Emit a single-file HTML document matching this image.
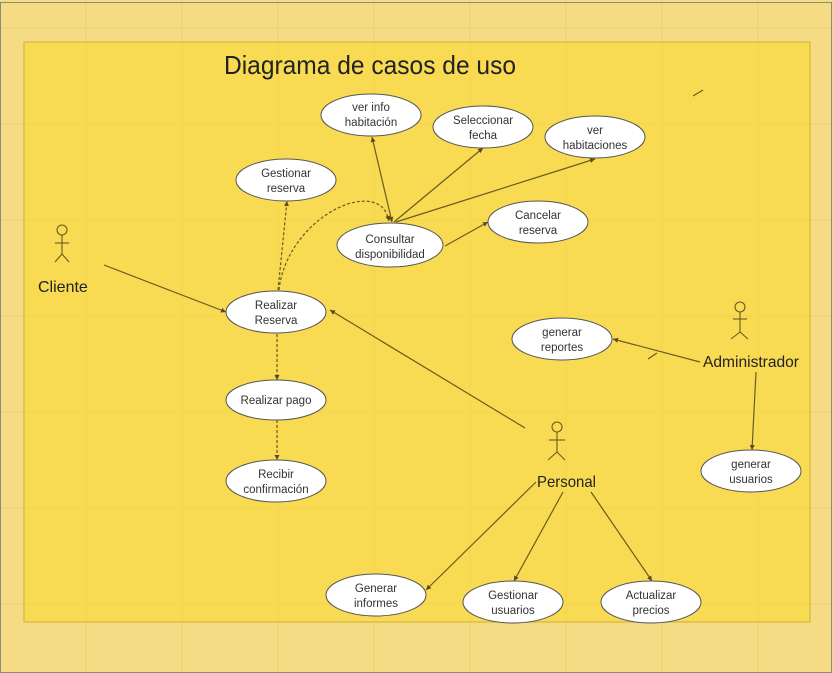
<!DOCTYPE html>
<html><head><meta charset="utf-8"><style>
html,body{margin:0;padding:0;width:833px;height:673px;overflow:hidden;background:#f5dc84}
svg{display:block}
text{font-family:"Liberation Sans",sans-serif;fill:#222}
.u{font-size:11.5px;text-anchor:middle;fill:#333}
</style></head><body>
<svg width="833" height="673" viewBox="0 0 833 673" xmlns="http://www.w3.org/2000/svg">
<defs>
<marker id="a" markerWidth="6" markerHeight="6" refX="5" refY="3" orient="auto" markerUnits="userSpaceOnUse"><path d="M0,0.5 L5,3 L0,5.5z" fill="#5a4a1a"/></marker>
<marker id="s" markerWidth="6" markerHeight="6" refX="1" refY="3" orient="auto" markerUnits="userSpaceOnUse"><path d="M6,0.5 L1,3 L6,5.5z" fill="#5a4a1a"/></marker>
</defs>
<rect x="0" y="0" width="833" height="673" fill="#f5dc84"/>
<g stroke="#ecd279" stroke-width="1">
<line x1="86" y1="0" x2="86" y2="673"/><line x1="182" y1="0" x2="182" y2="673"/><line x1="278" y1="0" x2="278" y2="673"/><line x1="374" y1="0" x2="374" y2="673"/><line x1="470" y1="0" x2="470" y2="673"/><line x1="566" y1="0" x2="566" y2="673"/><line x1="662" y1="0" x2="662" y2="673"/><line x1="758" y1="0" x2="758" y2="673"/>
<line x1="0" y1="28" x2="833" y2="28"/><line x1="0" y1="124" x2="833" y2="124"/><line x1="0" y1="220" x2="833" y2="220"/><line x1="0" y1="316" x2="833" y2="316"/><line x1="0" y1="412" x2="833" y2="412"/><line x1="0" y1="508" x2="833" y2="508"/><line x1="0" y1="604" x2="833" y2="604"/>
</g>
<rect x="0.5" y="2.5" width="831" height="670" fill="none" stroke="#8a8a7a" stroke-width="1"/>
<rect x="24" y="42" width="786" height="580" fill="#f8db52" stroke="#d4b640" stroke-width="1.2"/>
<g stroke="#f1d24e" stroke-width="1" opacity="0.5">
<line x1="86" y1="43" x2="86" y2="621"/><line x1="182" y1="43" x2="182" y2="621"/><line x1="278" y1="43" x2="278" y2="621"/><line x1="374" y1="43" x2="374" y2="621"/><line x1="470" y1="43" x2="470" y2="621"/><line x1="566" y1="43" x2="566" y2="621"/><line x1="662" y1="43" x2="662" y2="621"/><line x1="758" y1="43" x2="758" y2="621"/>
<line x1="25" y1="124" x2="809" y2="124"/><line x1="25" y1="220" x2="809" y2="220"/><line x1="25" y1="316" x2="809" y2="316"/><line x1="25" y1="412" x2="809" y2="412"/><line x1="25" y1="508" x2="809" y2="508"/><line x1="25" y1="604" x2="809" y2="604"/>
</g>
<text x="224" y="74" font-size="26" textLength="292" lengthAdjust="spacingAndGlyphs" fill="#222">Diagrama de casos de uso</text>

<g stroke="#6b5a20" stroke-width="1.2" fill="none">
<line x1="104" y1="265" x2="226" y2="312" marker-end="url(#a)"/>
<line x1="525" y1="428" x2="330" y2="310" marker-end="url(#a)"/>
<line x1="278" y1="290" x2="287" y2="201" stroke-dasharray="3,2" marker-end="url(#a)"/>
<path d="M279,290 C285,235 340,195 372,202 C384,205 387,213 389,221" stroke-dasharray="3,2" marker-end="url(#a)"/>
<line x1="277" y1="334" x2="277" y2="380" stroke-dasharray="3,2" marker-end="url(#a)"/>
<line x1="277" y1="420" x2="277" y2="460" stroke-dasharray="3,2" marker-end="url(#a)"/>
<line x1="392" y1="222" x2="372" y2="137" marker-start="url(#s)" marker-end="url(#a)"/>
<line x1="394" y1="222" x2="483" y2="148" marker-end="url(#a)"/>
<line x1="396" y1="222" x2="595" y2="159" marker-end="url(#a)"/>
<line x1="445" y1="246" x2="488" y2="222" marker-end="url(#a)"/>
<line x1="700" y1="362" x2="613" y2="339" marker-end="url(#a)"/>
<line x1="756" y1="372" x2="752" y2="450" marker-end="url(#a)"/>
<line x1="536" y1="482" x2="426" y2="590" marker-end="url(#a)"/>
<line x1="563" y1="492" x2="514" y2="581" marker-end="url(#a)"/>
<line x1="591" y1="492" x2="652" y2="581" marker-end="url(#a)"/>
<line x1="693" y1="96" x2="703" y2="90"/>
<line x1="648" y1="359" x2="657" y2="353"/>
</g>

<g fill="#fff" stroke="#555" stroke-width="1">
<ellipse cx="371" cy="115" rx="50" ry="21"/>
<ellipse cx="483" cy="127" rx="50" ry="21"/>
<ellipse cx="595" cy="137" rx="50" ry="21"/>
<ellipse cx="286" cy="180" rx="50" ry="21"/>
<ellipse cx="390" cy="245" rx="53" ry="22"/>
<ellipse cx="538" cy="222" rx="50" ry="21"/>
<ellipse cx="276" cy="312" rx="50" ry="21"/>
<ellipse cx="276" cy="400" rx="50" ry="20"/>
<ellipse cx="276" cy="481" rx="50" ry="21"/>
<ellipse cx="562" cy="339" rx="50" ry="21"/>
<ellipse cx="751" cy="471" rx="50" ry="21"/>
<ellipse cx="376" cy="595" rx="50" ry="21"/>
<ellipse cx="513" cy="602" rx="50" ry="21"/>
<ellipse cx="651" cy="602" rx="50" ry="21"/>
</g>
<g class="u">
<text class="u" x="371" y="111">ver info</text><text class="u" x="371" y="126">habitación</text>
<text class="u" x="483" y="124">Seleccionar</text><text class="u" x="483" y="139">fecha</text>
<text class="u" x="595" y="134">ver</text><text class="u" x="595" y="149">habitaciones</text>
<text class="u" x="286" y="177">Gestionar</text><text class="u" x="286" y="192">reserva</text>
<text class="u" x="390" y="243">Consultar</text><text class="u" x="390" y="258">disponibilidad</text>
<text class="u" x="538" y="219">Cancelar</text><text class="u" x="538" y="234">reserva</text>
<text class="u" x="276" y="309">Realizar</text><text class="u" x="276" y="324">Reserva</text>
<text class="u" x="276" y="404">Realizar pago</text>
<text class="u" x="276" y="478">Recibir</text><text class="u" x="276" y="493">confirmación</text>
<text class="u" x="562" y="336">generar</text><text class="u" x="562" y="351">reportes</text>
<text class="u" x="751" y="468">generar</text><text class="u" x="751" y="483">usuarios</text>
<text class="u" x="376" y="592">Generar</text><text class="u" x="376" y="607">informes</text>
<text class="u" x="513" y="599">Gestionar</text><text class="u" x="513" y="614">usuarios</text>
<text class="u" x="651" y="599">Actualizar</text><text class="u" x="651" y="614">precios</text>
</g>

<g stroke="#6b5a20" stroke-width="1.1" fill="none">
<circle cx="62" cy="230" r="5"/><line x1="62" y1="235" x2="62" y2="254"/><line x1="55" y1="243" x2="69" y2="243"/><line x1="62" y1="254" x2="55" y2="262"/><line x1="62" y1="254" x2="69" y2="262"/>
<circle cx="740" cy="307" r="5"/><line x1="740" y1="312" x2="740" y2="332"/><line x1="733" y1="319" x2="747" y2="319"/><line x1="740" y1="332" x2="731" y2="339"/><line x1="740" y1="332" x2="748" y2="339"/>
<circle cx="557" cy="427" r="5"/><line x1="557" y1="432" x2="557" y2="452"/><line x1="549" y1="440" x2="565" y2="440"/><line x1="557" y1="452" x2="548" y2="460"/><line x1="557" y1="452" x2="565" y2="460"/>
</g>
<text x="38" y="292" font-size="16">Cliente</text>
<text x="703" y="367" font-size="15.5" textLength="96" lengthAdjust="spacingAndGlyphs">Administrador</text>
<text x="537" y="487" font-size="16" textLength="59" lengthAdjust="spacingAndGlyphs">Personal</text>
</svg>
</body></html>
